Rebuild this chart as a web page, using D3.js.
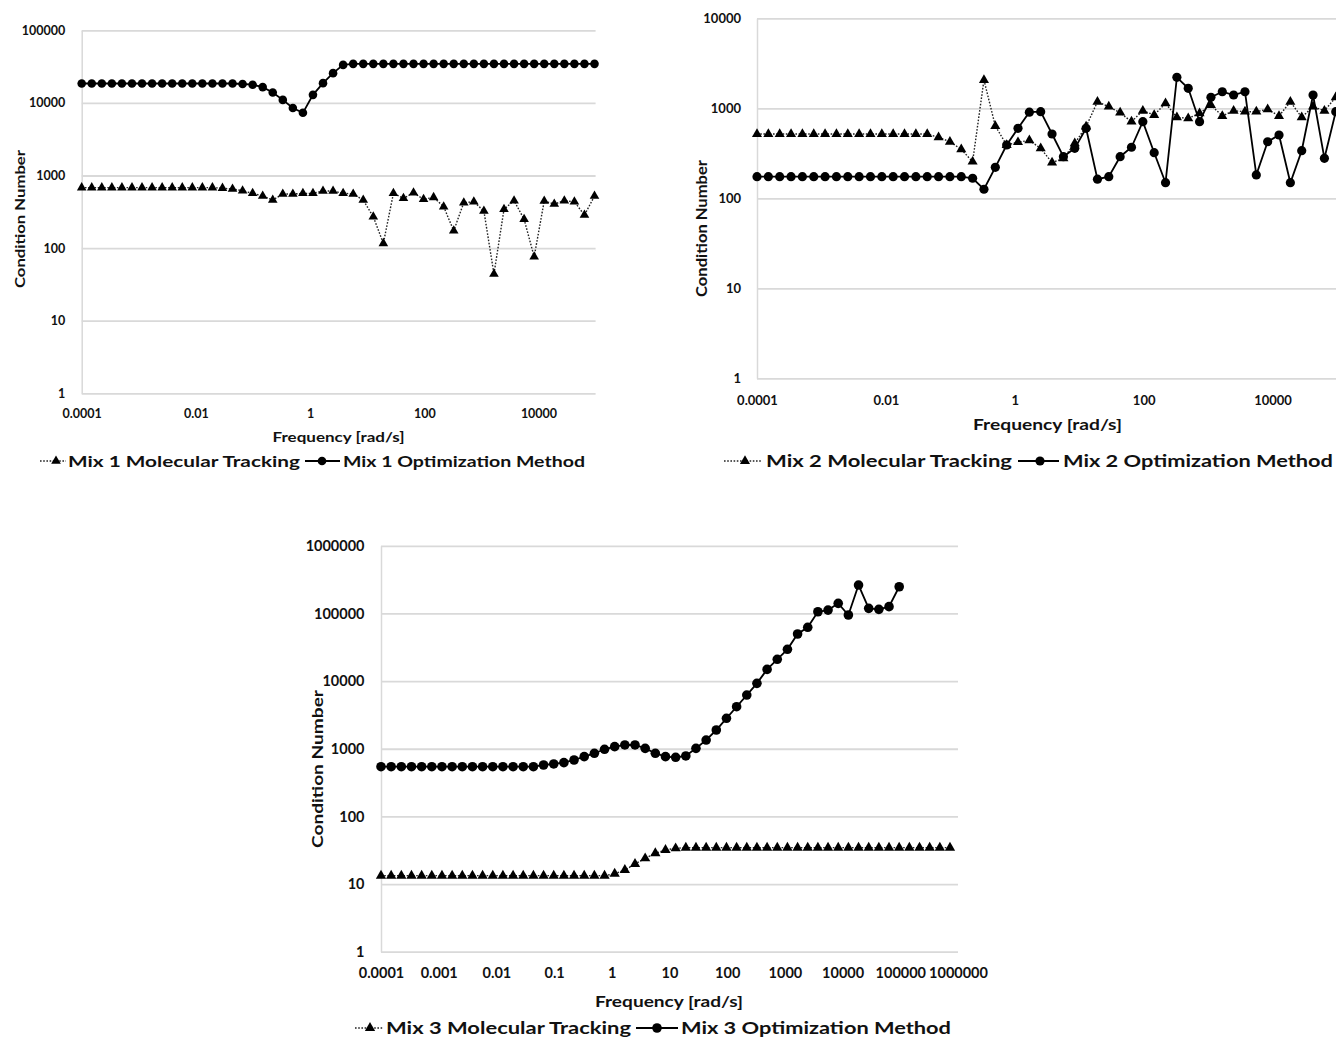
<!DOCTYPE html>
<html>
<head>
<meta charset="utf-8">
<script src="https://cdn.jsdelivr.net/npm/d3@7"></script>
<style>
  html, body { margin: 0; padding: 0; background: #ffffff; }
  svg { display: block; }
</style>
</head>
<body>
<svg id="chart" width="1336" height="1039"></svg>
<script>
// ---------------- DATA ----------------
// Frequency sweep [rad/s] (read from the marker spacing on the log axes)
const frequency = [0.0001, 0.00015, 0.000225, 0.0003375, 0.0005063, 0.0007594, 0.001139, 0.001709,
  0.002563, 0.003844, 0.005767, 0.00865, 0.01297, 0.01946, 0.02919, 0.04379, 0.06568, 0.09853,
  0.1478, 0.2217, 0.3325, 0.4988, 0.7482, 1.122, 1.683, 2.525, 3.788, 5.682, 8.523, 12.78,
  19.18, 28.76, 43.15, 64.72, 97.08, 145.6, 218.4, 327.6, 491.5, 737.2, 1106, 1659, 2488,
  3732, 5598, 8397, 12596, 18894, 28341, 42511, 63767, 95650, 143475, 215212, 322818,
  484227, 726341];

const mix1Tracking = [680, 680, 680, 680, 680, 680, 680, 680, 680, 680, 680, 680, 680, 680,
  670, 650, 617, 568, 521, 459, 556, 556, 568, 568, 611, 611, 568, 556, 459, 270,
  116, 568, 485, 579, 470, 500, 372, 173, 422, 435, 324, 44, 342, 450, 249, 76,
  445, 404, 450, 435, 285, 521];
const mix1Optimization = [18500, 18500, 18500, 18500, 18500, 18500, 18500, 18500, 18500, 18500,
  18500, 18500, 18500, 18500, 18500, 18500, 18200, 17800, 16500, 13900, 11000, 8500, 7300,
  12900, 18700, 25700, 33400, 34500, 34500, 34500, 34500, 34500, 34500, 34500, 34500, 34500,
  34500, 34500, 34500, 34500, 34500, 34500, 34500, 34500, 34500, 34500, 34500, 34500, 34500,
  34500, 34500, 34500];

const mix2Tracking = [518, 518, 518, 518, 518, 518, 518, 518, 518, 518, 518, 518, 518, 518, 518, 518,
  476, 425, 350, 255, 2063, 636, 391, 420, 440, 359, 249, 278, 408, 625,
  1183, 1042, 894, 710, 940, 843, 1136, 794, 774, 880,
  1088, 821, 940, 917, 917, 975, 821, 1183, 794, 1042, 940, 1325];
const mix2Optimization = [174, 174, 174, 174, 174, 174, 174, 174, 174, 174, 174, 174, 174, 174, 174,
  174, 174, 174, 174, 167, 126, 221, 391, 599, 905, 917, 518, 290, 359, 599,
  163, 174, 290, 369, 710, 321, 149, 2210, 1668, 710,
  1325, 1528, 1405, 1528, 182, 425, 505, 149, 338, 1405, 278, 917];

const mix3Tracking = [13.3, 13.3, 13.3, 13.3, 13.3, 13.3, 13.3, 13.3, 13.3, 13.3, 13.3, 13.3, 13.3,
  13.3, 13.3, 13.3, 13.3, 13.3, 13.3, 13.3, 13.3, 13.3, 13.3, 14.2, 16.1, 19.8, 24, 28.5, 31.9,
  33.7, 34.5, 34.5, 34.5, 34.5, 34.5, 34.5, 34.5, 34.5, 34.5, 34.5, 34.5, 34.5, 34.5, 34.5,
  34.5, 34.5, 34.5, 34.5, 34.5, 34.5, 34.5, 34.5, 34.5, 34.5, 34.5, 34.5, 34.5];
const mix3Optimization = [543, 543, 543, 543, 543, 543, 543, 543, 543, 543, 543, 543, 543, 543, 543, 543,
  575, 596, 623, 682, 764, 857, 982, 1075, 1137, 1137, 1014, 857, 764, 747, 782, 1014, 1346,
  1892, 2818, 4180, 6220, 9270, 14900, 21000, 29500, 49700, 62400, 106000, 112000, 141000,
  94800, 263000, 119000, 115000, 126000, 248000];

const xTicksMix12 = [0.0001, 0.01, 1, 100, 10000];
const xTicksMix3 = [0.0001, 0.001, 0.01, 0.1, 1, 10, 100, 1000, 10000, 100000, 1000000];
const yTicksMix1 = [1, 10, 100, 1000, 10000, 100000];
const yTicksMix2 = [1, 10, 100, 1000, 10000];
const yTicksMix3 = [1, 10, 100, 1000, 10000, 100000, 1000000];

const xTitle = "Frequency [rad/s]";
const yTitle = "Condition Number";
const legendMix1 = ["Mix 1 Molecular Tracking", "Mix 1 Optimization Method"];
const legendMix2 = ["Mix 2 Molecular Tracking", "Mix 2 Optimization Method"];
const legendMix3 = ["Mix 3 Molecular Tracking", "Mix 3 Optimization Method"];

// ---------------- DRAWING ----------------
const svg = d3.select("#chart");
const FONT = "Lato, 'Open Sans', 'DejaVu Sans', sans-serif";
const GRID = "#d9d9d9";
const INK = "#111111";

function drawPanel(p) {
  const g = svg.append("g");
  const x = d3.scaleLog().domain(p.xDomain).range(p.xRange);
  const y = d3.scaleLog().domain(p.yDomain).range(p.yRange);
  const w = p.xRange[1] - p.xRange[0];

  // y axis + horizontal gridlines
  const ya = g.append("g")
    .attr("transform", `translate(${p.xRange[0]},0)`)
    .call(d3.axisLeft(y).tickValues(p.yTicks).tickFormat(d => String(d))
      .tickSizeInner(-w).tickSizeOuter(0).tickPadding(p.yPad));
  ya.select(".domain").attr("stroke", GRID).attr("stroke-width", 1.5);
  ya.selectAll(".tick line").attr("stroke", GRID).attr("stroke-width", 1.8);
  ya.selectAll(".tick text").attr("font-family", FONT).attr("font-weight", "bold")
    .attr("font-size", p.tickFs).attr("fill", INK);

  // x axis labels
  const xa = g.append("g")
    .attr("transform", `translate(0,${p.yRange[0]})`)
    .call(d3.axisBottom(x).tickValues(p.xTicks).tickFormat(d => String(d))
      .tickSize(0).tickPadding(p.xPad));
  xa.select(".domain").remove();
  xa.selectAll(".tick text").attr("font-family", FONT).attr("font-weight", "bold")
    .attr("font-size", p.tickFs).attr("fill", INK);

  // axis titles
  g.append("text")
    .attr("x", p.xTitle.cx).attr("y", p.xTitle.cy).attr("dy", "0.35em")
    .attr("text-anchor", "middle").attr("font-family", FONT).attr("font-weight", "bold")
    .attr("font-size", p.xTitle.fs).attr("fill", INK)
    .attr("textLength", p.xTitle.len).attr("lengthAdjust", "spacingAndGlyphs")
    .text(xTitle);
  g.append("g").attr("transform", `translate(${p.yTitle.cx},${p.yTitle.cy}) rotate(-90)`)
    .append("text").attr("dy", "0.35em")
    .attr("text-anchor", "middle").attr("font-family", FONT).attr("font-weight", "bold")
    .attr("font-size", p.yTitle.fs).attr("fill", INK)
    .attr("textLength", p.yTitle.len).attr("lengthAdjust", "spacingAndGlyphs")
    .text(yTitle);

  const line = d3.line().x(d => x(d.f)).y(d => y(d.v));
  const tri = d3.symbol().type(d3.symbolTriangle).size(p.triSize);

  // Molecular tracking (dotted + triangles)
  const mt = p.tracking.map((v, i) => ({ f: frequency[i], v }));
  g.append("path").datum(mt).attr("d", line).attr("fill", "none")
    .attr("stroke", "#222").attr("stroke-width", 1.4).attr("stroke-dasharray", "1.6,1.6");
  g.append("g").selectAll("path").data(mt).join("path")
    .attr("transform", d => `translate(${x(d.f)},${y(d.v)})`)
    .attr("d", tri).attr("fill", "#000");

  // Optimization method (solid + circles)
  const om = p.optimization.map((v, i) => ({ f: frequency[i], v }));
  g.append("path").datum(om).attr("d", line).attr("fill", "none")
    .attr("stroke", "#000").attr("stroke-width", 1.8);
  g.append("g").selectAll("circle").data(om).join("circle")
    .attr("cx", d => x(d.f)).attr("cy", d => y(d.v)).attr("r", p.circR).attr("fill", "#000");

  // legend
  const L = p.legend;
  const lg = g.append("g");
  lg.append("line").attr("x1", L.s1[0]).attr("x2", L.s1[1]).attr("y1", L.cy).attr("y2", L.cy)
    .attr("stroke", "#222").attr("stroke-width", 1.4).attr("stroke-dasharray", "1.6,1.6");
  lg.append("path").attr("transform", `translate(${L.m1},${L.cy})`).attr("d", tri).attr("fill", "#000");
  lg.append("text").attr("x", L.t1[0]).attr("y", L.cy).attr("dy", "0.36em")
    .attr("font-family", FONT).attr("font-weight", "bold").attr("font-size", L.fs).attr("fill", INK)
    .attr("textLength", L.t1[1]).attr("lengthAdjust", "spacingAndGlyphs").text(p.labels[0]);
  lg.append("line").attr("x1", L.s2[0]).attr("x2", L.s2[1]).attr("y1", L.cy).attr("y2", L.cy)
    .attr("stroke", "#000").attr("stroke-width", 1.8);
  lg.append("circle").attr("cx", L.m2).attr("cy", L.cy).attr("r", p.circR).attr("fill", "#000");
  lg.append("text").attr("x", L.t2[0]).attr("y", L.cy).attr("dy", "0.36em")
    .attr("font-family", FONT).attr("font-weight", "bold").attr("font-size", L.fs).attr("fill", INK)
    .attr("textLength", L.t2[1]).attr("lengthAdjust", "spacingAndGlyphs").text(p.labels[1]);
}

drawPanel({
  xDomain: [1e-4, 1e5], xRange: [81.7, 595.6],
  yDomain: [1, 1e5], yRange: [393.3, 30.3],
  xTicks: xTicksMix12, yTicks: yTicksMix1,
  tickFs: 12.5, xPad: 15.5, yPad: 16.5,
  xTitle: { cx: 338.5, cy: 437, fs: 14, len: 132 },
  yTitle: { cx: 20, cy: 219, fs: 14, len: 138 },
  tracking: mix1Tracking, optimization: mix1Optimization,
  triSize: 40, circR: 4.3,
  labels: legendMix1,
  legend: { cy: 461, fs: 16, s1: [40, 66], m1: 56, t1: [68, 232], s2: [305, 340], m2: 322, t2: [343, 242] }
});

drawPanel({
  xDomain: [1e-4, 1e5], xRange: [757, 1337],
  yDomain: [1, 1e4], yRange: [378.3, 18.3],
  xTicks: xTicksMix12, yTicks: yTicksMix2,
  tickFs: 13, xPad: 17, yPad: 16,
  xTitle: { cx: 1047.5, cy: 425, fs: 15, len: 149 },
  yTitle: { cx: 702, cy: 228.5, fs: 15, len: 137 },
  tracking: mix2Tracking, optimization: mix2Optimization,
  triSize: 44, circR: 4.6,
  labels: legendMix2,
  legend: { cy: 461, fs: 17, s1: [724, 762], m1: 745, t1: [766, 246], s2: [1018, 1059], m2: 1040, t2: [1063, 270] }
});

drawPanel({
  xDomain: [1e-4, 1e6], xRange: [381, 958],
  yDomain: [1, 1e6], yRange: [951.7, 545.8],
  xTicks: xTicksMix3, yTicks: yTicksMix3,
  tickFs: 14.5, xPad: 16, yPad: 16.5,
  xTitle: { cx: 669, cy: 1002, fs: 15, len: 148 },
  yTitle: { cx: 318, cy: 769, fs: 15, len: 158 },
  tracking: mix3Tracking, optimization: mix3Optimization,
  triSize: 46, circR: 4.8,
  labels: legendMix3,
  legend: { cy: 1028, fs: 17, s1: [355, 383], m1: 370, t1: [386, 245], s2: [636, 678], m2: 657, t2: [681, 270] }
});
</script>
</body>
</html>
